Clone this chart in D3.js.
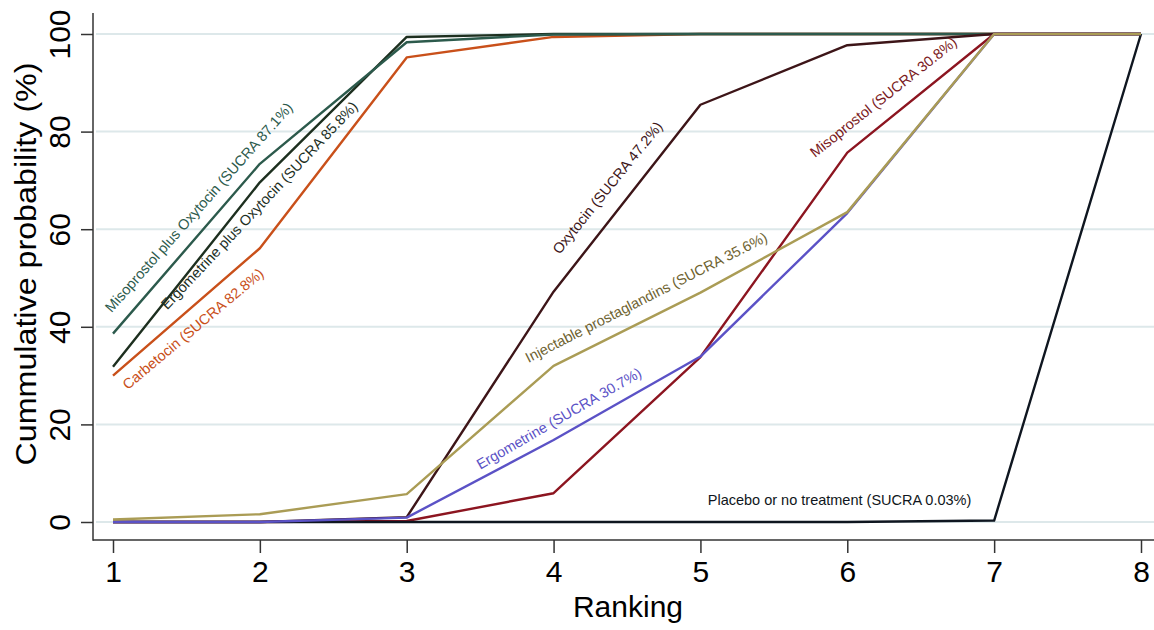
<!DOCTYPE html>
<html>
<head>
<meta charset="utf-8">
<script src="https://cdn.jsdelivr.net/npm/d3@7"></script>
<style>
  html, body { margin: 0; padding: 0; background: #fff; }
  svg { display: block; font-family: Arial, "Liberation Sans", Helvetica, sans-serif; }
</style>
</head>
<body>
<svg id="chart" width="1154" height="630"></svg>
<script>
// Ranks on the x axis
const ranks = [1, 2, 3, 4, 5, 6, 7, 8];
const yTicks = [0, 20, 40, 60, 80, 100];

// Cumulative ranking probabilities (%) per treatment, rank 1..8
const carbetocin      = [30.0, 56.1, 95.2, 99.4, 100, 100, 100, 100];
const ergoPlusOxy     = [31.8, 69.6, 99.4, 100, 100, 100, 100, 100];
const misoPlusOxy     = [38.6, 73.4, 98.3, 99.9, 100, 100, 100, 100];
const oxytocin        = [0, 0, 1.0, 47.2, 85.5, 97.7, 100, 100];
const misoprostol     = [0, 0, 0.2, 5.9, 33.8, 75.7, 100, 100];
const placebo         = [0, 0, 0, 0, 0, 0, 0.3, 100];
const ergometrine     = [0, 0, 0.9, 16.8, 33.9, 63.3, 100, 100];
const injectablePG    = [0.5, 1.6, 5.7, 32.0, 47.0, 63.5, 100, 100];

// Series names, label text and colours (draw order: later on top)
const seriesNames  = ["Carbetocin", "Ergometrine plus Oxytocin", "Misoprostol plus Oxytocin",
                      "Oxytocin", "Misoprostol", "Placebo or no treatment",
                      "Ergometrine", "Injectable prostaglandins"];
const seriesValues = [carbetocin, ergoPlusOxy, misoPlusOxy, oxytocin, misoprostol,
                      placebo, ergometrine, injectablePG];
const seriesLabels = ["Carbetocin (SUCRA 82.8%)",
                      "Ergometrine plus Oxytocin (SUCRA 85.8%)",
                      "Misoprostol plus Oxytocin (SUCRA 87.1%)",
                      "Oxytocin (SUCRA 47.2%)",
                      "Misoprostol (SUCRA 30.8%)",
                      "Placebo or no treatment (SUCRA 0.03%)",
                      "Ergometrine (SUCRA 30.7%)",
                      "Injectable prostaglandins (SUCRA 35.6%)"];
const lineColors  = ["#c9501a", "#1d2f1f", "#2c5a4c", "#3d1518", "#8c1520",
                     "#0f1620", "#5b52c6", "#aa9c55"];
const textColors  = ["#c9501a", "#1d2f1f", "#2c5a4c", "#3d1518", "#7a1a22",
                     "#0f1620", "#5b52c6", "#6e6230"];
// Label anchor (rank, probability) and rotation in degrees
const labelRank   = [1.10, 1.37, 0.99, 4.04, 5.78, 5.05, 3.50, 3.83];
const labelProb   = [27.0, 43.4, 42.8, 54.7, 74.6, 3.5, 10.7, 32.6];
const labelAngle  = [-40, -46.7, -48.4, -51, -38.5, 0, -30, -27];

const svg = d3.select("#chart");
const W = 1154, H = 630;
const axisX = 93, axisY = 540, axisTop = 13;

const x = d3.scaleLinear().domain([1, 8]).range([113, 1141]);
const y = d3.scaleLinear().domain([0, 100]).range([522, 34]);

// Horizontal grid lines
svg.append("g").selectAll("line").data(yTicks).join("line")
  .attr("x1", axisX + 3).attr("x2", W)
  .attr("y1", d => y(d)).attr("y2", d => y(d))
  .attr("stroke", "#dde8ea").attr("stroke-width", 2);

// Y axis with vertical tick labels
const yAxis = svg.append("g").attr("transform", `translate(${axisX},0)`)
  .call(d3.axisLeft(y).tickValues(yTicks).tickFormat(d3.format("d"))
    .tickSize(12).tickSizeOuter(0));
yAxis.select(".domain").remove();
yAxis.selectAll(".tick line").attr("stroke", "#333").attr("stroke-width", 1.5);
yAxis.selectAll(".tick text")
  .attr("transform", "translate(-34,0) rotate(-90)")
  .attr("x", 0).attr("y", 0).attr("dy", "0.36em")
  .attr("text-anchor", "middle")
  .attr("fill", "#000")
  .style("font-size", "30px");

svg.append("line").attr("x1", axisX).attr("x2", axisX)
  .attr("y1", axisTop).attr("y2", axisY + 0.75)
  .attr("stroke", "#333").attr("stroke-width", 1.5);

// X axis
const xAxis = svg.append("g").attr("transform", `translate(0,${axisY})`)
  .call(d3.axisBottom(x).tickValues(ranks).tickFormat(d3.format("d"))
    .tickSize(13).tickSizeOuter(0).tickPadding(8));
xAxis.select(".domain").remove();
xAxis.selectAll(".tick line").attr("stroke", "#333").attr("stroke-width", 1.5);
xAxis.selectAll(".tick text").attr("fill", "#000").style("font-size", "30px");

svg.append("line").attr("x1", axisX).attr("x2", W)
  .attr("y1", axisY).attr("y2", axisY)
  .attr("stroke", "#333").attr("stroke-width", 1.5);

// Axis titles
svg.append("text").attr("x", 628).attr("y", 617)
  .attr("text-anchor", "middle").style("font-size", "30px").attr("fill", "#000")
  .text("Ranking");
svg.append("text")
  .attr("transform", `translate(36,264) rotate(-90)`)
  .attr("text-anchor", "middle").style("font-size", "30px").attr("fill", "#000")
  .attr("textLength", 403).attr("lengthAdjust", "spacingAndGlyphs")
  .text("Cummulative probability (%)");

// Lines
const line = d3.line().x((d, i) => x(ranks[i])).y(d => y(d));
svg.append("g").selectAll("path").data(seriesValues).join("path")
  .attr("d", d => line(d))
  .attr("fill", "none")
  .attr("stroke", (d, i) => lineColors[i])
  .attr("stroke-width", 2.4)
  .attr("stroke-linejoin", "round");

// Series labels
svg.append("g").selectAll("text").data(seriesLabels).join("text")
  .attr("transform", (d, i) => `translate(${x(labelRank[i])},${y(labelProb[i])}) rotate(${labelAngle[i]})`)
  .attr("fill", (d, i) => textColors[i])
  .style("font-size", "14.5px")
  .text(d => d);
</script>
</body>
</html>
